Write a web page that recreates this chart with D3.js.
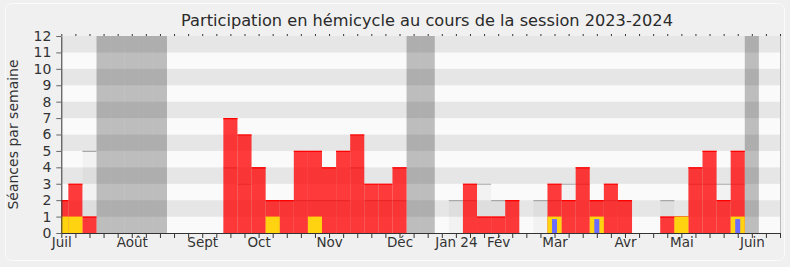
<!DOCTYPE html>
<html>
<head>
<meta charset="utf-8">
<script src="https://cdn.jsdelivr.net/npm/d3@7"></script>
<style>
  html, body { margin: 0; padding: 0; background: #f0f0f0; }
  svg { display: block; font-family: "DejaVu Sans", sans-serif; }
</style>
</head>
<body>
<div id="chart"></div>
<script>
// Data (one entry per week, July 2023 -> June 2024)
const monthLabels = ['Juil', 'Août', 'Sept', 'Oct', 'Nov', 'Déc', 'Jan 24', 'Fév', 'Mar', 'Avr', 'Mai', 'Juin'];
const monthWeeks = [0, 5, 10, 14, 19, 24, 28, 31, 35, 40, 44, 49];
const vacationWeeks = [3, 4, 5, 6, 7, 25, 26, 49];
const presence = [2, 3, 1, 0, 0, 0, 0, 0, 0, 0, 0, 0, 7, 6, 4, 2, 2, 5, 5, 4, 5, 6, 3, 3, 4, 0,
                  0, 0, 0, 3, 1, 1, 2, 0, 0, 3, 2, 4, 2, 3, 2, 0, 0, 1, 1, 4, 5, 2, 5, 0, 0, 0];
const median = [0, 0, 5, 0, 0, 0, 0, 0, 0, 0, 0, 0, 4, 3, 4, 2, 2, 2, 2, 2, 2, 4, 2, 2, 2, 0,
                0, 0, 2, 2, 3, 2, 2, 0, 2, 2, 3, 3, 2, 2, 2, 0, 0, 2, 1, 3, 3, 3, 3, 0, 0, 0];
const interventions = [1, 1, 0, 0, 0, 0, 0, 0, 0, 0, 0, 0, 0, 0, 0, 1, 0, 0, 1, 0, 0, 0, 0, 0, 0, 0,
                       0, 0, 0, 0, 0, 0, 0, 0, 0, 1, 0, 0, 1, 0, 0, 0, 0, 0, 1, 0, 0, 0, 1, 0, 0, 0];
const questions = [0, 0, 0, 0, 0, 0, 0, 0, 0, 0, 0, 0, 0, 0, 0, 0, 0, 0, 0, 0, 0, 0, 0, 0, 0, 0,
                   0, 0, 0, 0, 0, 0, 0, 0, 0, 1, 0, 0, 1, 0, 0, 0, 0, 0, 0, 0, 0, 0, 1, 0, 0, 0];
const yMax = 12;

// Layout
const W = 790, H = 267;
const plot = { left: 61.3, right: 780, top: 36, bottom: 233 };

const weeks = d3.range(presence.length);
const x = d3.scaleLinear().domain([0, weeks.length - 1]).range([plot.left, plot.right]);
const step = x(1) - x(0);
const y = d3.scaleLinear().domain([0, yMax]).range([plot.bottom, plot.top]);

const svg = d3.select('#chart').append('svg')
    .attr('width', W)
    .attr('height', H);

svg.append('rect')
    .attr('x', 0).attr('y', 0).attr('width', W).attr('height', H)
    .attr('fill', '#f0f0f0');

svg.append('rect')
    .attr('x', 5.5).attr('y', 3.5).attr('width', 779).attr('height', 257)
    .attr('rx', 6)
    .attr('fill', 'none')
    .attr('stroke', '#fbfbfb');

svg.append('defs').append('clipPath').attr('id', 'plotClip')
    .append('rect')
    .attr('x', plot.left).attr('y', plot.top)
    .attr('width', plot.right - plot.left).attr('height', plot.bottom - plot.top);

const g = svg.append('g').attr('clip-path', 'url(#plotClip)');

// Alternating bands
g.selectAll('rect.band')
    .data(d3.range(yMax))
    .join('rect')
    .attr('class', 'band')
    .attr('x', plot.left)
    .attr('width', plot.right - plot.left)
    .attr('y', d => y(d + 1))
    .attr('height', d => y(d) - y(d + 1))
    .attr('fill', d => d % 2 === 0 ? '#fafafa' : '#e6e6e6');

// Vacation weeks
g.selectAll('rect.vac')
    .data(vacationWeeks)
    .join('rect')
    .attr('class', 'vac')
    .attr('x', d => x(d) - step / 2)
    .attr('width', step)
    .attr('y', plot.top)
    .attr('height', plot.bottom - plot.top)
    .attr('fill', '#000')
    .attr('fill-opacity', 0.245);

// Median bars
const med = weeks.filter(i => median[i] > 0);
g.selectAll('rect.med')
    .data(med)
    .join('rect')
    .attr('class', 'med')
    .attr('x', i => x(i) - step / 2)
    .attr('width', step)
    .attr('y', i => y(median[i]))
    .attr('height', i => y(0) - y(median[i]))
    .attr('fill', '#000')
    .attr('fill-opacity', 0.03);
g.selectAll('line.med')
    .data(med)
    .join('line')
    .attr('class', 'med')
    .attr('x1', i => x(i) - step / 2)
    .attr('x2', i => x(i) + step / 2)
    .attr('y1', i => y(median[i]) + 0.5)
    .attr('y2', i => y(median[i]) + 0.5)
    .attr('stroke', '#a8a8a8')
    .attr('stroke-width', 1.2);

// Presence bars
const pres = weeks.filter(i => presence[i] > 0);
g.selectAll('rect.pres')
    .data(pres)
    .join('rect')
    .attr('class', 'pres')
    .attr('x', i => x(i) - step / 2)
    .attr('width', step)
    .attr('y', i => y(presence[i]))
    .attr('height', i => y(0) - y(presence[i]))
    .attr('fill', '#ff0000')
    .attr('fill-opacity', 0.77);
g.selectAll('line.pres')
    .data(pres)
    .join('line')
    .attr('class', 'pres')
    .attr('x1', i => x(i) - step / 2)
    .attr('x2', i => x(i) + step / 2)
    .attr('y1', i => y(presence[i]) + 0.5)
    .attr('y2', i => y(presence[i]) + 0.5)
    .attr('stroke', '#ff0000')
    .attr('stroke-width', 1.2);

// Interventions
g.selectAll('rect.inter')
    .data(weeks.filter(i => interventions[i] > 0))
    .join('rect')
    .attr('class', 'inter')
    .attr('x', i => x(i) - step / 2)
    .attr('width', step)
    .attr('y', i => y(interventions[i]))
    .attr('height', i => y(0) - y(interventions[i]))
    .attr('fill', '#ffd30f');

// Questions
g.selectAll('rect.quest')
    .data(weeks.filter(i => questions[i] > 0))
    .join('rect')
    .attr('class', 'quest')
    .attr('x', i => x(i) - 2.5)
    .attr('width', 5)
    .attr('y', i => y(questions[i]) + 2.5)
    .attr('height', i => y(0) - y(questions[i]) - 2.5)
    .attr('fill', '#6b6bff');

// Right border
svg.append('line')
    .attr('x1', plot.right + 0.5).attr('x2', plot.right + 0.5)
    .attr('y1', plot.top).attr('y2', plot.bottom)
    .attr('stroke', '#bbbbbb');

// Week ticks (bottom and top)
svg.append('g')
    .attr('transform', `translate(0,${plot.bottom})`)
    .call(d3.axisBottom(x).tickValues(weeks).tickFormat('').tickSizeInner(5).tickSizeOuter(0))
    .call(a => a.select('.domain').attr('stroke', '#333'))
    .call(a => a.selectAll('.tick line').attr('stroke', '#333'));

svg.append('g')
    .attr('transform', `translate(0,${plot.top})`)
    .call(d3.axisTop(x).tickValues(weeks).tickFormat('').tickSizeInner(2).tickSizeOuter(0))
    .call(a => a.select('.domain').remove())
    .call(a => a.selectAll('.tick line').attr('stroke', '#333'));

// Month labels
svg.append('g')
    .attr('transform', `translate(0,${plot.bottom})`)
    .call(d3.axisBottom(x).tickValues(monthWeeks)
        .tickFormat((d, i) => monthLabels[i]).tickSize(0).tickPadding(4))
    .call(a => a.select('.domain').remove())
    .call(a => a.selectAll('text')
        .attr('font-family', '"DejaVu Sans", sans-serif')
        .attr('font-size', 13.5)
        .attr('fill', '#333'));

// Y axis
svg.append('g')
    .attr('transform', `translate(${plot.left},0)`)
    .call(d3.axisLeft(y).tickValues(d3.range(yMax + 1)).tickFormat(d3.format('d'))
        .tickSizeInner(5).tickSizeOuter(0).tickPadding(5))
    .call(a => a.select('.domain').attr('stroke', '#333'))
    .call(a => a.selectAll('.tick line').attr('stroke', '#666'))
    .call(a => a.selectAll('text')
        .attr('font-family', '"DejaVu Sans", sans-serif')
        .attr('font-size', 14)
        .attr('fill', '#333'));

// Y title
svg.append('text')
    .attr('transform', `translate(18,${(plot.top + plot.bottom) / 2}) rotate(-90)`)
    .attr('text-anchor', 'middle')
    .attr('font-size', 14)
    .attr('fill', '#333')
    .text('Séances par semaine');

// Title
svg.append('text')
    .attr('x', 427)
    .attr('y', 25.5)
    .attr('text-anchor', 'middle')
    .attr('font-size', 16.2)
    .attr('fill', '#2a2a2a')
    .text('Participation en hémicycle au cours de la session 2023-2024');
</script>
</body>
</html>
